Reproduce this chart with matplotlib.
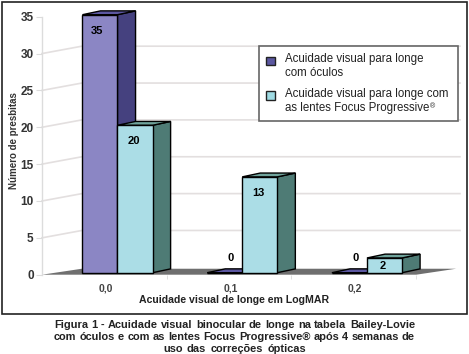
import matplotlib
matplotlib.use('Agg')
import matplotlib.pyplot as plt
from matplotlib.patches import Patch, Polygon, Rectangle

plt.rcParams['font.family'] = ['Liberation Sans', 'DejaVu Sans']

categories = ['0,0', '0,1', '0,2']
oculos = [35, 0, 0]
focus = [20, 13, 2]
y_ticks = [0, 5, 10, 15, 20, 25, 30, 35]
legend_labels = ['Acuidade visual para longe\ncom óculos',
                 'Acuidade visual para longe com \nas lentes Focus Progressive']
caption = ['Figura 1 - Acuidade visual binocular de longe na tabela Bailey-Lovie',
           'com óculos e com as lentes Focus Progressive® após 4 semanas de',
           'uso das correções ópticas']

W, H = 469, 354
fig = plt.figure(figsize=(W / 100, H / 100), dpi=100)
# eixo vai de x=42 a 460 e de y=16.7 a 274.7 em pixels
ax = fig.add_axes([42 / W, 1 - 274.7 / H, 418 / W, 258 / H])
ax.set_xlim(-0.51, 2.841)
ax.set_ylim(0, 35)

bar_w = 0.281
bar_start = -0.186
front_y = 0.27  # frente das barras um pouco acima do chao
dx, dy = 0.145, 0.52  # profundidade das barras
wall_dx, wall_dy = 0.32, 1.0  # profundidade da parede

# grade
for v in y_ticks[1:-1]:
    ax.plot([-0.51, -0.51 + wall_dx, 2.841], [v, v + wall_dy, v + wall_dy],
            color='#e3dfdf', lw=1.2, zorder=1, clip_on=False)

# chao
ax.add_patch(Polygon([(-0.51, 0), (-0.51 + wall_dx, 0.81), (2.81, 0.81), (2.49, 0)],
                     fc='#6f6f6f', ec='none', zorder=2, clip_on=False))


def bar3d(x, v, front, side, top):
    y0 = front_y
    y1 = v + front_y
    ec = dict(ec='black', lw=1.0, joinstyle='miter', clip_on=False, zorder=3)
    ax.add_patch(Polygon([(x + bar_w, y0), (x + bar_w + dx, y0 + dy), (x + bar_w + dx, y1 + dy), (x + bar_w, y1)], fc=side, **ec))
    ax.add_patch(Polygon([(x, y1), (x + dx, y1 + dy), (x + bar_w + dx, y1 + dy), (x + bar_w, y1)], fc=top, **ec))
    ax.add_patch(Polygon([(x, y0), (x + bar_w, y0), (x + bar_w, y1), (x, y1)], fc=front, **ec))


for i in range(len(categories)):
    x0 = i + bar_start
    x1 = x0 + bar_w
    bar3d(x0, oculos[i], '#8b86c4', '#45417f', '#5b57a0')
    bar3d(x1, focus[i], '#abdde6', '#4e7b75', '#6fa39b')
    for x, v, off in [(x0, oculos[i], -0.02), (x1, focus[i], -0.01)]:
        if v >= 10:
            ypos = v - 1.9
        elif v > 0:
            ypos = v / 2 + 0.2
        else:
            ypos = 2.3
            off = 0.05
        ax.text(x + bar_w / 2 + off, ypos, str(v), ha='center', va='center', fontsize=8,
                fontweight='bold', color='black', zorder=5)

# eixos
for s in ['top', 'right', 'bottom']:
    ax.spines[s].set_visible(False)
ax.spines['left'].set_color('#dcdcdc')
ax.spines['left'].set_linewidth(1.0)
ax.patch.set_alpha(0)
ax.set_yticks(y_ticks)
ax.set_xticks(range(len(categories)))
ax.set_xticklabels(categories)
ax.set_xticks([i + 0.49 for i in range(len(categories))], minor=True)
ax.tick_params(axis='x', which='major', length=0, pad=6, labelsize=7.5, labelcolor='#444444')
ax.tick_params(axis='x', which='minor', length=3, color='#dcdcdc')
ax.tick_params(axis='y', length=4, color='#dcdcdc', pad=2, labelsize=8.5, labelcolor='#333333')
for lab in ax.get_yticklabels() + ax.get_xticklabels():
    lab.set_fontweight('bold')
ax.set_ylabel('Número de presbitas', fontsize=7, fontweight='bold', color='#333333')
ax.yaxis.set_label_coords(-23 / 418, 0.52)
ax.set_xlabel('Acuidade visual de longe em LogMAR', fontsize=7.6, fontweight='bold', color='#222222')
ax.xaxis.set_label_coords(0.46, -20 / 258)

handles = [Patch(fc='#5b57a0', ec='#222222'), Patch(fc='#9fdbe3', ec='#222222')]
leg = ax.legend(handles, legend_labels, loc='upper left', bbox_to_anchor=(217.3 / 418, 1 - 29.3 / 258),
                fontsize=8.3, frameon=True, fancybox=False, edgecolor='#666666', framealpha=1,
                handlelength=0.8, handleheight=0.8, handletextpad=0.8, labelspacing=0.75,
                borderpad=0.6, borderaxespad=0, labelcolor='#222222')
leg.get_frame().set_linewidth(1.2)
leg.set_zorder(6)
for t in leg.get_texts():
    t.set_linespacing(1.25)
for h in leg.legend_handles:
    h.set_y(h.get_y() + 4)

# moldura
fig.add_artist(Rectangle((1.5 / W, 1 - 314 / H), 465.5 / W, 312.5 / H, fill=False, ec='#222222',
                         lw=1.2, transform=fig.transFigure))

fig.canvas.draw()
rend = fig.canvas.get_renderer()

# simbolo pequeno depois de Progressive na legenda
ext = leg.get_texts()[1].get_window_extent(rend)
fig.text((ext.x0 + 145) / W, (ext.y0 + 6) / H, '®', fontsize=5, color='#222222', zorder=7)


# legenda da figura, justificada
def justified(line, y, left, right):
    words = line.split(' ')
    arts = [fig.text(0, 1 - y / H, w, fontsize=7.9, fontweight='bold', color='#222222', va='center') for w in words]
    widths = [a.get_window_extent(rend).width for a in arts]
    gap = (right - left - sum(widths)) / (len(words) - 1)
    x = left
    for a, w in zip(arts, widths):
        a.set_x(x / W)
        x += w + gap


justified(caption[0], 325, 54, 415)
justified(caption[1], 337, 54, 415)
justified(caption[2], 348.5, 163, 306)

fig.savefig('out.png', dpi=100, facecolor='white')
